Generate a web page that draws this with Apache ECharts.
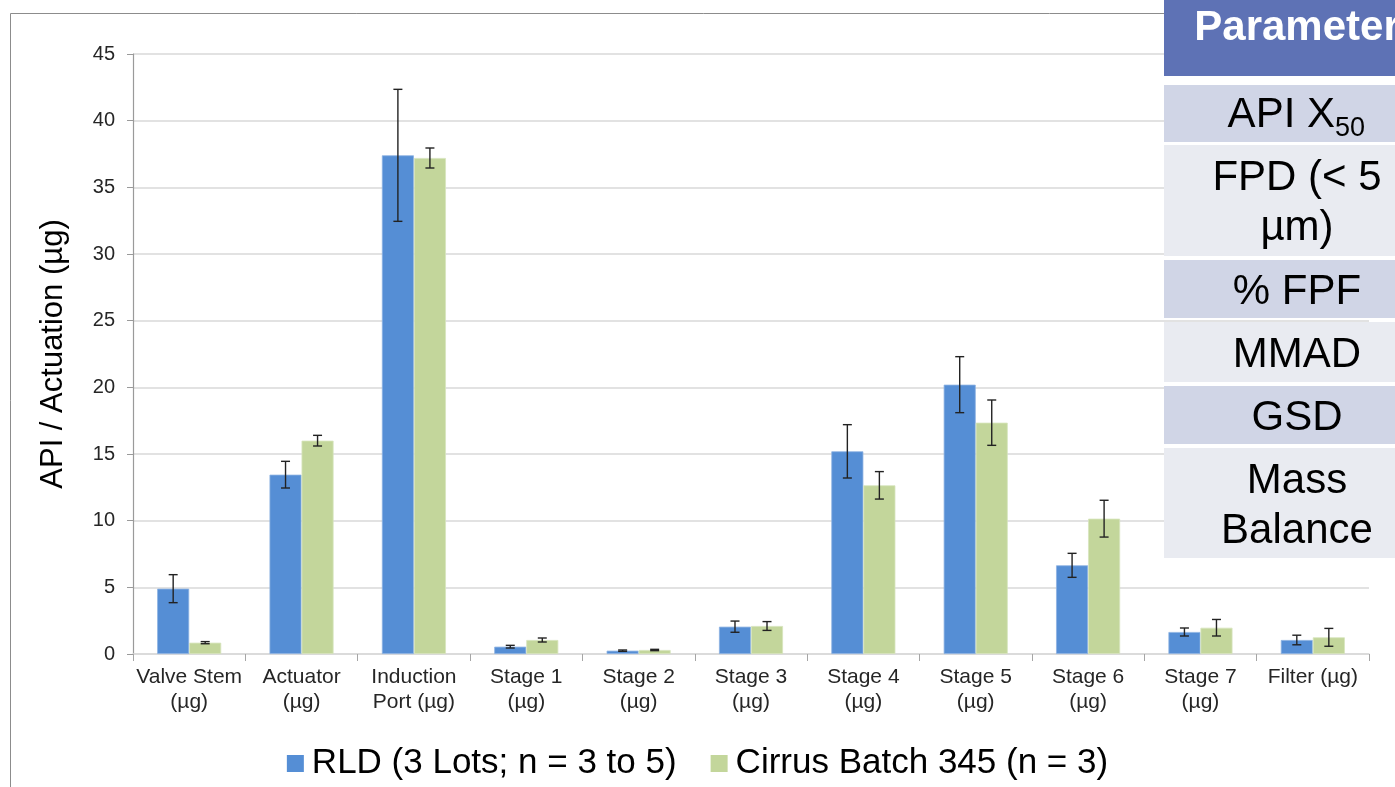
<!DOCTYPE html>
<html>
<head>
<meta charset="utf-8">
<script src="https://cdn.jsdelivr.net/npm/echarts@6/dist/echarts.min.js"></script>
<style>
html,body{margin:0;padding:0;background:#fff;}
#chart{width:1395px;height:787px;}
</style>
</head>
<body>
<div id="chart"></div>
<script>
// ---- data ----
const categories = ['Valve Stem\n(µg)','Actuator\n(µg)','Induction\nPort (µg)','Stage 1\n(µg)','Stage 2\n(µg)','Stage 3\n(µg)','Stage 4\n(µg)','Stage 5\n(µg)','Stage 6\n(µg)','Stage 7\n(µg)','Filter (µg)'];
const seriesNames = ['RLD (3 Lots; n = 3 to 5)','Cirrus Batch 345 (n = 3)'];
const rldValues    = [4.9, 13.45, 37.4, 0.55, 0.25, 2.05, 15.2, 20.2, 6.65, 1.65, 1.05];
const rldErrors    = [1.05, 1.0, 4.95, 0.1, 0.05, 0.42, 2.0, 2.1, 0.9, 0.3, 0.36];
const cirrusValues = [0.85, 16.0, 37.2, 1.05, 0.3, 2.1, 12.65, 17.35, 10.15, 1.97, 1.25];
const cirrusErrors = [0.08, 0.4, 0.75, 0.15, 0.05, 0.33, 1.03, 1.7, 1.38, 0.62, 0.67];
const yTicks = {min: 0, max: 45, interval: 5};
const yAxisTitle = 'API / Actuation (µg)';
const tableHeader = 'Parameter';
const tableRows = [['API X', '50'], ['FPD (< 5', 'µm)'], ['% FPF'], ['MMAD'], ['GSD'], ['Mass', 'Balance']];

// ---- chart ----
const chart = echarts.init(document.getElementById('chart'));
const GAP = 0.43;
const FONT = '"Liberation Sans", Arial, sans-serif';

function errData(vals, errs){
  return vals.map((v,i)=>[i, v, errs[i]]);
}
function errRender(sign){
  return function(params, api){
    const idx = api.value(0), v = api.value(1), e = api.value(2);
    const band = api.size([1,0])[0];
    const bw = band*(1-GAP)/2;
    const c = api.coord([idx, v]);
    const x = c[0] + sign*bw/2;
    const hi = api.coord([idx, v+e])[1];
    const lo = api.coord([idx, v-e])[1];
    const cap = 4.5;
    const st = {stroke:'#222', lineWidth:1.4};
    return {type:'group', children:[
      {type:'line', shape:{x1:x,y1:hi,x2:x,y2:lo}, style:st},
      {type:'line', shape:{x1:x-cap,y1:hi,x2:x+cap,y2:hi}, style:st},
      {type:'line', shape:{x1:x-cap,y1:lo,x2:x+cap,y2:lo}, style:st}
    ]};
  };
}

// table graphics
const TX = 1164, TCX = 1297, DY = 3;
const rowBounds = [[85,142],[145,256],[260,318],[322,382],[386,444],[448,558]];
const rowColors = ['#D0D5E6','#E9EBF1'];
const graphics = [
  {type:'rect', shape:{x:10.5,y:13.5,width:1420,height:800}, style:{fill:'none', stroke:'#8C8C8C', lineWidth:1}, z:0, silent:true},
  {type:'rect', shape:{x:TX,y:0,width:300,height:76}, style:{fill:'#5E72B5'}, z:100},
  {type:'text', x:TCX, y:28, style:{text:tableHeader, fill:'#fff', font:'bold 42px '+FONT, textAlign:'center', textVerticalAlign:'middle'}, z:101}
];
tableRows.forEach((row,i)=>{
  const [t,b] = rowBounds[i];
  graphics.push({type:'rect', shape:{x:TX,y:t,width:300,height:b-t}, style:{fill:rowColors[i%2]}, z:100});
  const cy = (t+b)/2 + DY;
  if(i===0){
    graphics.push({type:'text', x:1335, y:cy-1, style:{text:row[0], fill:'#000', font:'42px '+FONT, textAlign:'right', textVerticalAlign:'middle'}, z:101});
    graphics.push({type:'text', x:1335, y:cy+12, style:{text:row[1], fill:'#000', font:'27px '+FONT, textAlign:'left', textVerticalAlign:'middle'}, z:101});
  } else if(row.length===2){
    graphics.push({type:'text', x:TCX, y:cy-25, style:{text:row[0], fill:'#000', font:'42px '+FONT, textAlign:'center', textVerticalAlign:'middle'}, z:101});
    graphics.push({type:'text', x:TCX, y:cy+25, style:{text:row[1], fill:'#000', font:'42px '+FONT, textAlign:'center', textVerticalAlign:'middle'}, z:101});
  } else {
    graphics.push({type:'text', x:TCX, y:cy, style:{text:row[0], fill:'#000', font:'42px '+FONT, textAlign:'center', textVerticalAlign:'middle'}, z:101});
  }
});

const option = {
  animation:false,
  backgroundColor:'#fff',
  textStyle:{fontFamily:FONT},
  grid:{left:133, right:26, top:54, bottom:133, containLabel:false},
  legend:{
    data:seriesNames,
    left:'center', top:741,
    itemWidth:17, itemHeight:17, itemGap:34,
    icon:'rect',
    itemStyle:{borderWidth:0},
    textStyle:{fontSize:35, color:'#000', fontFamily:FONT, padding:[0,0,0,3]}
  },
  xAxis:{
    type:'category', data:categories,
    axisLine:{lineStyle:{color:'#D9D9D9', width:1.5}},
    axisTick:{show:true, length:7, lineStyle:{color:'#A6A6A6'}},
    axisLabel:{fontSize:21, color:'#262626', lineHeight:25, margin:11, interval:0, fontFamily:FONT},
    splitLine:{show:false}
  },
  yAxis:{
    type:'value', min:yTicks.min, max:yTicks.max, interval:yTicks.interval,
    name:yAxisTitle, nameLocation:'middle', nameGap:64,
    nameTextStyle:{fontSize:31, color:'#000', fontFamily:FONT},
    axisLine:{show:true, lineStyle:{color:'#9A9A9A', width:1.2}},
    axisTick:{show:true, length:6, lineStyle:{color:'#9A9A9A'}},
    axisLabel:{fontSize:20, color:'#262626', margin:18, fontFamily:FONT},
    splitLine:{show:true, lineStyle:{color:'#D9D9D9', width:1.5}}
  },
  series:[
    {name:seriesNames[0], type:'bar', data:rldValues, barGap:'0%', barCategoryGap:(GAP*100)+'%',
     itemStyle:{color:'#558ED5', borderColor:'#8DB3E2', borderWidth:0.8}},
    {name:seriesNames[1], type:'bar', data:cirrusValues, barGap:'0%', barCategoryGap:(GAP*100)+'%',
     itemStyle:{color:'#C3D69B', borderColor:'#D7E4BD', borderWidth:0.8}},
    {type:'custom', name:'err0', renderItem:errRender(-1), data:errData(rldValues, rldErrors), z:10, silent:true},
    {type:'custom', name:'err1', renderItem:errRender(1), data:errData(cirrusValues, cirrusErrors), z:10, silent:true}
  ],
  graphic:graphics
};
chart.setOption(option);
</script>
</body>
</html>
